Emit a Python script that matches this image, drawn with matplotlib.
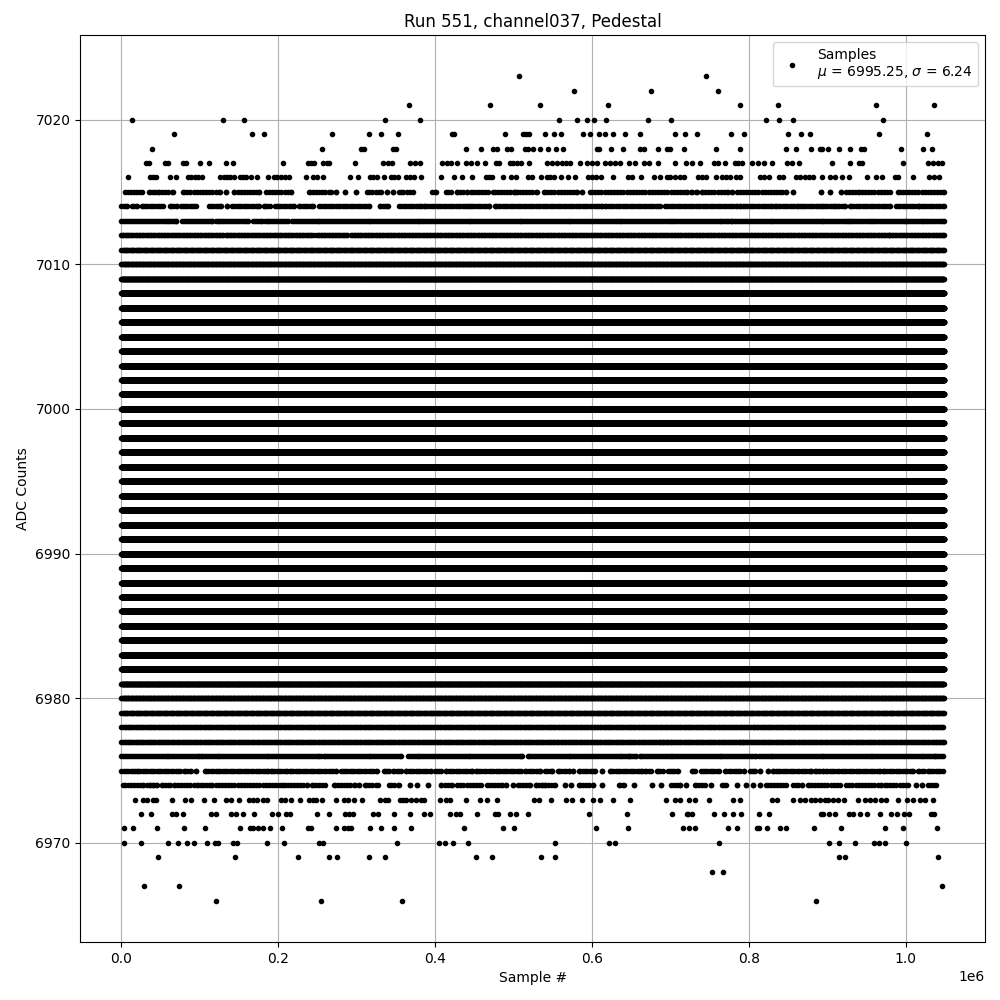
import numpy as np
import matplotlib
matplotlib.use('Agg')
import matplotlib.pyplot as plt

# All sample numbers below are in thousands.
n_samples = 1048576
full_range = [(0, 1048.5)]

# Outliers, one list per ADC level
row_7023 = [507.1, 744.9]
row_7022 = [577, 674.9, 760.1]
row_7021 = [366, 470.2, 533.8, 620.3, 788.1, 836.4, 962.3, 1036]
row_7020 = [13.8, 129.5, 156.2, 335.5, 381.2, 558, 580.9, 593.6, 602.5, 617.7, 671.1, 700.4,
            821.1, 837.7, 856.7, 971.2]
row_7019 = [67.2, 166.4, 181.6, 268.1, 315.1, 330.4, 352, 421.9, 424, 489.3, 512.2, 515.2, 519.4,
            540.2, 551.6, 560.5, 588.5, 597.4, 608.8, 616.4, 626.6, 641.9, 660.9, 705.4, 718.2,
            733.4, 776.6, 793.2, 850.4, 866.9, 878.3, 966.1, 1027.1]
row_7018 = [39.2, 255.4, 305.4, 309.6, 345.6, 349.9, 439.7, 458.8, 474.1, 479.1, 491.8, 496.9,
            513.9, 518.1, 524.9, 533, 543.6, 554.1, 563, 606.3, 609.2, 624.1, 639.3, 661.4, 665.6,
            683.8, 695.3, 699.5, 716.9, 757.6, 788.1, 846.6, 860.5, 879.6, 890.2, 893.6, 901.2,
            915.2, 928.4, 943.2, 946.6, 994, 1022, 1033.5]
row_7017 = [30.8, 35, 55.3, 59.6, 78.6, 82.9, 100.3, 111.7, 133.3, 142.2, 205.8, 237.6, 241.8, 246,
            257.5, 261.7, 265.1, 297.3, 332.9, 339.3, 344.4, 367.3, 374.5, 381.2, 409.2, 415.6,
            419.8, 428.3, 439.7, 446.1, 453.7, 463.9, 477, 481.3, 494.8, 499, 504.6, 509.6, 519.8,
            542.7, 549.1, 555.4, 561.8, 566.9, 572.4, 584.7, 593.6, 599.9, 606.3, 616.4, 623.2,
            629.6, 635.9, 647, 654.6, 665.6, 672.4, 683.8, 705.4, 719.4, 727.1, 738.1, 755.9, 761,
            769, 782.1, 786.4, 790.6, 803.3, 811.8, 819, 828.8, 849.1, 855, 863.5, 906.3, 929.2,
            939.8, 944, 996.2, 1028, 1034.3, 1040.7, 1045.8]
row_7016 = [8.7, 36.3, 39.7, 43.9, 62.1, 70.2, 85, 89.2, 93.5, 97.7, 103.2, 126.1, 130.4, 134.6,
            138.8, 143.9, 150.7, 154.9, 159.2, 165.5, 172.7, 186.7, 193.9, 198.2, 203.7, 207.9, 213,
            235, 244, 249, 257.5, 291, 301.1, 316.8, 321, 325.7, 334.2, 343.5, 347.8, 352, 363.4,
            367.7, 373.6, 382.5, 407.9, 424.5, 434.6, 447.3, 464.3, 468.5, 472.8, 486.8, 496.9,
            502.4, 518.5, 523.6, 535.1, 542.7, 547, 552, 560.5, 569.4, 578.3, 594.8, 599.9, 605.4,
            611.8, 626.6, 645.7, 650.8, 662.2, 678.7, 686.8, 695.3, 699.5, 705.9, 712.2, 717.7,
            734.7, 739.8, 744.9, 757.6, 765.2, 770.3, 775.8, 783, 788.5, 813.9, 819.4, 825.4, 838.1,
            843.6, 860.5, 865.2, 871.1, 876.2, 881.7, 893.6, 902.9, 909.3, 919, 927.9, 950.8, 962.3,
            969, 985.6, 990.6, 1009.7, 1030.1, 1036.4, 1042.8]
row_6973 = [17.2, 27, 32.9, 40.5, 44.7, 64.7, 80.8, 89.2, 105.4, 118, 133.7, 140.1, 149.8, 162.6,
            167.6, 172.7, 180.4, 185.9, 203.7, 207.9, 216, 227.4, 239.7, 243.9, 248.2, 255.4, 273.2,
            284.2, 288.4, 296.9, 306.2, 329.1, 336.3, 339.7, 355, 359.2, 363.4, 369, 375.3, 381.7,
            385.9, 406.7, 414.3, 419.4, 439.7, 457.5, 466.4, 479.1, 525.8, 532.5, 547.8, 566.9,
            574.5, 587.2, 601.2, 610.1, 626.6, 648.2, 694.4, 705.9, 712.2, 723.2, 731.3, 748.7,
            779.2, 788.1, 828.8, 836, 856.3, 864.8, 872, 878.8, 884.7, 890.2, 896.6, 900.8, 907.2,
            913.5, 920.7, 939.4, 948.3, 953.8, 960.1, 968.6, 975, 989.8, 1001.7, 1009.3, 1018.2,
            1024.6, 1034.7]
row_6972 = [25.3, 38, 64.7, 70.2, 78.6, 114.2, 121, 139.7, 145.6, 154.9, 169.3, 191.8, 199.4, 209.2,
            215.1, 249, 264.3, 284.6, 289.7, 294.8, 320.2, 326.6, 346.9, 367.3, 385.9, 393.1, 419.4,
            427, 431.2, 453.7, 476.2, 480, 495.7, 503.3, 518.5, 596.1, 644.4, 701.6, 721.6, 722.8,
            727.1, 755, 767.7, 779.2, 789.4, 812.2, 825, 892.3, 894.5, 902.1, 909.3, 927.1, 932.6,
            941, 950.8, 967.3, 981.3, 988.5, 998.3, 1004.6, 1032.2, 1036.4]
row_6971 = [3.6, 15, 45.6, 79.9, 106.6, 151.1, 163.4, 167.6, 174, 180.4, 189.3, 204.5, 237.6, 241.8,
            273.2, 283.3, 288.4, 292.7, 316.8, 330.4, 346.9, 369.8, 437.2, 486.8, 500.7, 605, 645.7,
            715.6, 723.2, 730.9, 772.8, 784.3, 809.7, 813.1, 822.4, 840.2, 847.8, 883.4, 917.8,
            973.7, 996.6, 1039.8]
row_6970 = [3.6, 25.3, 59.6, 72.3, 83.7, 92.6, 109.2, 118.9, 123.2, 142.2, 147.7, 185, 207, 252.4,
            256.6, 350.7, 405.4, 413, 423.2, 442.3, 552.9, 621.5, 629.2, 761.4, 902.5, 915.2, 935.6,
            959.7, 966.1, 973.7, 1000.4]
row_6969 = [46.9, 144.8, 224.9, 264.3, 274.5, 315.1, 335.5, 452.4, 472.8, 535.1, 552.9, 915.2, 922.8,
            1041.1]
row_6968 = [752.5, 766.5]
row_6967 = [29.1, 73.6, 1046.2]
row_6966 = [120.6, 254.1, 357.1, 886]

# Crowded levels: the single samples merge in the picture, so only the
# stretches (start, end) that are covered could be read.
runs_7015 = [(4.5, 25.7), (35.4, 42.6), (46.9, 65.9), (78.7, 125.3), (132.9, 132.9), (143.5, 171.9),
             (175.3, 175.3), (184.6, 216.4), (238.8, 267.2), (273.2, 273.2), (285, 285), (298.6, 298.6),
             (313, 330.8), (338, 338), (345.6, 345.6), (354.1, 359.2), (364.7, 371.1), (396.5, 401.6),
             (413.4, 419.8), (427.4, 440.1), (445.2, 467.7), (473.6, 500.3), (502.4, 530), (538.5, 580.9),
             (587.2, 587.2), (597.8, 720.7), (726.2, 733.4), (739.8, 773.7), (777.9, 777.9), (784.3, 841.5),
             (846.6, 846.6), (856.3, 856.3), (892.3, 892.3), (903.4, 903.4), (917.8, 917.8), (924.1, 934.7),
             (939, 979.2), (989.8, 1048.5)]
runs_7014 = [(0, 6.6), (13.8, 19.3), (26.5, 53.2), (61.7, 71), (75.7, 95.6), (111.3, 127.4),
             (134.6, 134.6), (141, 175.3), (181.2, 188.8), (196, 220.6), (227, 244.8), (252.4, 316),
             (329.5, 339.3), (354.1, 381.7), (385.9, 441), (443.1, 468.5), (476.2, 600), (604.2, 612.6),
             (616, 686.8), (693.2, 784.3), (788.5, 828.8), (833, 862.7), (864.8, 890.2), (893.6, 909.3),
             (912.7, 922), (928.4, 979.2), (987.7, 1017.4), (1020.7, 1048.5)]
runs_7013 = [(0, 61.7), (65, 70.2), (77.8, 115.5), (121, 161.3), (167.7, 179), (182.5, 212.1),
             (217.7, 773.7), (776.6, 926.2), (929.2, 977), (980, 1000.4), (1002.5, 1048.5)]
runs_7012 = [(0, 2.4), (5.8, 129.5), (132.9, 244), (248, 287.2), (292.7, 978.5), (980, 1048.5)]
runs_6977 = [(0, 476.2), (479.1, 501.6), (504.6, 556.7), (560.9, 686.8), (688.9, 696.5),
             (699.5, 788.5), (791.5, 1048.5)]
runs_6978 = [(0, 802), (804.6, 1048)]
runs_6976 = [(0, 99), (102, 254.5), (258.8, 356.2), (365.6, 510.9), (518.5, 644.4), (647.4, 655.9),
             (661.4, 808.4), (812.7, 1034.3), (1037.3, 1047)]
runs_6975 = [(0, 17.2), (19.3, 74.4), (79.5, 89.2), (95.6, 95.6), (106.2, 186.7), (190.1, 210.9),
             (215.1, 254.5), (258.8, 269.4), (273.6, 273.6), (280, 325.3), (335, 341.4), (345.6, 356.2),
             (362.6, 394.4), (399.9, 407.1), (413.4, 447.4), (452.4, 508.8), (514.3, 534.2), (540.6, 549.1),
             (556.3, 570.2), (575.8, 575.8), (583, 604.2), (612.6, 612.6), (623.2, 663.5), (667.7, 674.9),
             (683, 689.8), (697.4, 709.3), (727, 731.3), (738.9, 761.8), (769.4, 777), (781.3, 788.5),
             (794, 794), (801.2, 807.6), (814.4, 814.4), (823.7, 823.7), (830.9, 879.6), (884.7, 894.5),
             (898.7, 966.5), (970.7, 1008.9), (1015.2, 1022.9), (1028, 1034.3), (1038.5, 1047)]
runs_6974 = [(2.4, 23.6), (27.8, 36.3), (39.7, 45.6), (51.1, 61.7), (66.8, 97.7), (102, 111.7),
             (114.7, 203.7), (206.6, 236.3), (242.7, 259.6), (270.6, 298.2), (303.3, 303.3), (310.5, 326.6),
             (341.4, 354.1), (367.3, 367.3), (376.2, 376.2), (391.4, 391.4), (407.9, 421.9), (428.3, 457.9),
             (466.4, 485.5), (490.6, 490.6), (499.5, 499.5), (505.8, 521.5), (527.9, 536.4), (539.7, 552.5),
             (565.6, 565.6), (573.2, 573.2), (583, 595.7), (600.8, 600.8), (612.6, 612.6), (633.8, 640.2),
             (653.3, 653.3), (676.2, 676.2), (687.6, 687.6), (700.4, 712.2), (719.4, 719.4), (731.3, 744),
             (751.2, 751.2), (765.2, 770.7), (784.3, 784.3), (795.7, 795.7), (804.6, 804.6), (813.9, 813.9),
             (821.1, 847.8), (856.3, 862.7), (868.2, 868.2), (875.4, 915.6), (924.1, 968.6), (973.7, 1002.5),
             (1013.1, 1013.1), (1020.7, 1020.7), (1028, 1038.5)]

sparse_rows = {7023: row_7023, 7022: row_7022, 7021: row_7021, 7020: row_7020, 7019: row_7019,
               7018: row_7018, 7017: row_7017, 7016: row_7016, 6973: row_6973, 6972: row_6972,
               6971: row_6971, 6970: row_6970, 6969: row_6969, 6968: row_6968, 6967: row_6967,
               6966: row_6966}
run_rows = {7015: runs_7015, 7014: runs_7014, 7013: runs_7013, 7012: runs_7012, 6978: runs_6978,
            6977: runs_6977, 6976: runs_6976, 6975: runs_6975, 6974: runs_6974}
for level in list(range(6979, 7012)):
    run_rows[level] = full_range

# how thickly each level is populated (thousand samples between dots),
# the middle levels are overdrawn many times so their edges go hard
row_step = {7015: 4, 7014: 3, 7013: 2.5, 7012: 2, 7011: 1.5, 7010: 1, 7009: 0.5,
            6981: 0.5, 6980: 1, 6979: 1.5, 6978: 2, 6977: 2, 6976: 2.5, 6975: 3, 6974: 4}

xs = []
ys = []
for level, vals in sparse_rows.items():
    xs.append(np.array(vals) * 1000)
    ys.append(np.full(len(vals), level))
for level, runs in run_rows.items():
    sample_ids = np.arange(0, n_samples, row_step.get(level, 0.1) * 1000)
    for start, end in runs:
        inner = sample_ids[(sample_ids > start * 1000) & (sample_ids < end * 1000)]
        row = np.concatenate(([start * 1000, end * 1000], inner))
        xs.append(row)
        ys.append(np.full(len(row), level))
xs = np.concatenate(xs)
ys = np.concatenate(ys)

plt.figure(figsize=(10, 10))
plt.plot(xs, ys, 'k.', label='Samples\n$\\mu$ = 6995.25, $\\sigma$ = 6.24')
plt.title('Run 551, channel037, Pedestal')
plt.xlabel('Sample #')
plt.ylabel('ADC Counts')
plt.grid(True)
plt.legend(loc='upper right')
plt.subplots_adjust(left=0.0803, right=0.985, top=0.965, bottom=0.058)
plt.savefig('out.png', dpi=100)
